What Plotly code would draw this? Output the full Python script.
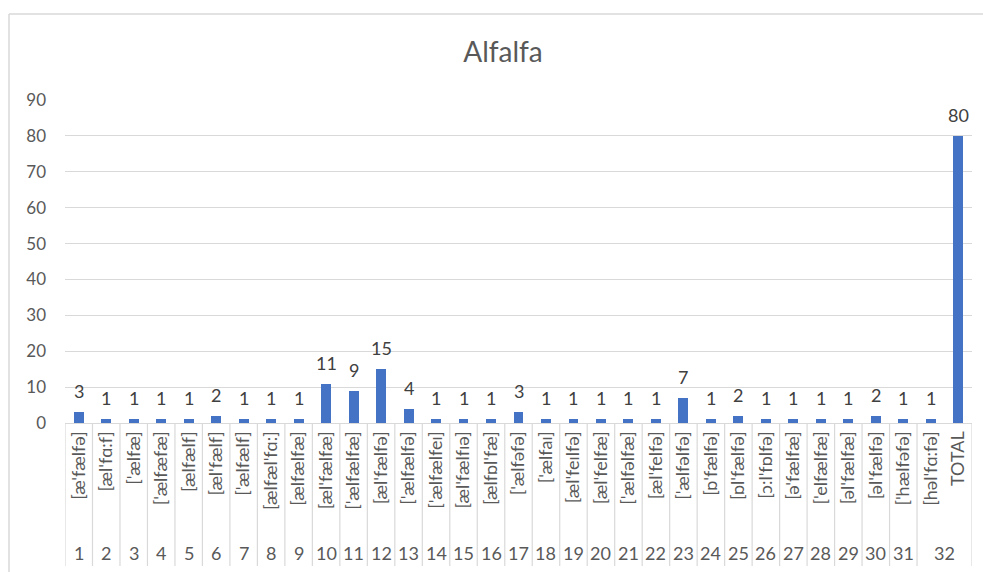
import plotly.graph_objects as go

# Pronunciation variants of "alfalfa" and how often each was heard
variants = [
    "[æ'fælfə]", "[æl'fɑ:f]", "['ælfæ]", "['ælfæfæ]", "[ælfælf]", "[æl'fælf]",
    "['ælfælf]", "[ælfæl'fɑ:]", "[ælfælfæ]", "[æl'fælfæ]", "['ælfælfæ]",
    "[æl'fælfə]", "['ælfælfə]", "['ælfælfeɪ]", "[æl'fælfɪə]", "[ælfɒl'fæ]",
    "['ælfəfə]", "['ælfaɪ]", "[æl'feɪlfə]", "[æl'felfæ]", "['ælfəlfæ]",
    "[æl'felfə]", "['ælfəlfə]", "[ɒ'fælfə]", "[ɒl'fælfə]", "[ɔ:l'fɒlfə]",
    "[ə'fælfæ]", "['elfælfæ]", "[əl'fælfæ]", "[əl'fælfə]", "['hælfəfə]",
    "[həl'fɑ:fə]", "TOTAL",
]
counts = [3, 1, 1, 1, 1, 2, 1, 1, 1, 11, 9, 15, 4, 1, 1, 1, 3, 1, 1, 1, 1, 1,
          7, 1, 2, 1, 1, 1, 1, 2, 1, 1, 80]
# Outer-level group numbers; group 32 covers the last variant and the total
group_labels = [str(i) for i in range(1, 33)]
group_spans = [(i, i) for i in range(31)] + [(31, 32)]

y_ticks = list(range(0, 100, 10))

FONT = "Lato, 'DejaVu Sans', sans-serif"
GRID = "#d9d9d9"
TEXT = "#595959"
xs = list(range(len(variants)))

fig = go.Figure(
    go.Bar(
        x=xs,
        y=counts,
        width=0.36,
        marker=dict(color="#4472C4", line=dict(width=0)),
        hoverinfo="x+y",
    )
)

shapes = []
# chart frame
shapes.append(dict(type="line", xref="paper", yref="paper",
                   x0=-56 / 907, x1=1.05, y0=(423 - 14) / 323, y1=(423 - 14) / 323,
                   line=dict(color=GRID, width=1.5)))
shapes.append(dict(type="line", xref="paper", yref="paper",
                   x0=-56 / 907, x1=-56 / 907, y0=(423 - 14) / 323, y1=-0.5,
                   line=dict(color=GRID, width=1.5)))
# group dividers below the axis
bounds = sorted({s for s, _ in group_spans} | {e + 1 for _, e in group_spans})
for b in bounds:
    shapes.append(dict(type="line", xref="x", yref="paper",
                       x0=b - 0.5, x1=b - 0.5, y0=0, y1=-143 / 323,
                       line=dict(color=GRID, width=1.2)))

annotations = []
# value labels above each bar
for x, c in zip(xs, counts):
    annotations.append(dict(x=x, y=c, xref="x", yref="y", text=str(c),
                            showarrow=False, yanchor="bottom", yshift=8,
                            font=dict(family=FONT, size=18, color="#404040")))
# group numbers along the bottom row
for lab, (s, e) in zip(group_labels, group_spans):
    annotations.append(dict(x=(s + e) / 2, y=-130 / 323, xref="x", yref="paper",
                            text=lab, showarrow=False, yanchor="middle",
                            font=dict(family=FONT, size=18, color=TEXT)))

fig.update_layout(
    width=983,
    height=572,
    margin=dict(l=65, r=11, t=100, b=149),
    paper_bgcolor="white",
    plot_bgcolor="white",
    title=dict(text="Alfalfa", x=503 / 983, xanchor="center", y=1 - 52 / 572,
               yanchor="middle", font=dict(family=FONT, size=28, color=TEXT)),
    showlegend=False,
    bargap=0,
    shapes=shapes,
    annotations=annotations,
    xaxis=dict(
        range=[-0.5, len(variants) - 0.5],
        tickmode="array",
        tickvals=xs,
        ticktext=variants,
        tickangle=-90,
        tickfont=dict(family=FONT, size=18, color=TEXT),
        ticks="",
        ticklabelstandoff=0,
        showgrid=False,
        zeroline=False,
        showline=True,
        linecolor=GRID,
        linewidth=1.2,
    ),
    yaxis=dict(
        range=[0, 90],
        tickmode="array",
        tickvals=y_ticks,
        tickfont=dict(family=FONT, size=17, color=TEXT),
        showgrid=True,
        gridcolor=GRID,
        gridwidth=1.2,
        zeroline=False,
        showline=False,
        ticks="",
        ticklabelstandoff=18,
    ),
)

fig.write_html("out.html")
